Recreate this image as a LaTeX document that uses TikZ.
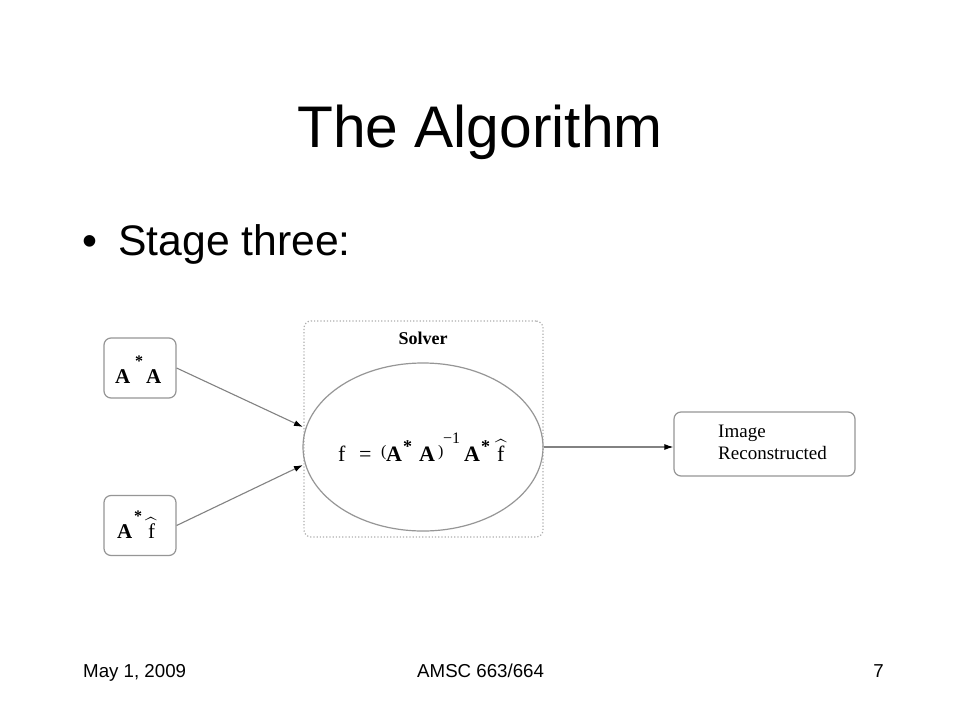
\documentclass[tikz,border=0pt]{standalone}
\usepackage{amsmath}
\usepackage{fontspec}
\setmainfont{Liberation Serif}
\newfontfamily\arial{Liberation Sans}
\usetikzlibrary{arrows.meta,shapes.geometric}
\definecolor{boxgray}{RGB}{150,150,150}
\definecolor{dotgray}{RGB}{175,175,175}
\definecolor{arrgray}{RGB}{130,130,130}
\tikzset{
  inbox/.style={draw=boxgray, line width=1.2pt, rounded corners=7pt, minimum width=72pt, minimum height=60pt, inner sep=0pt},
  outbox/.style={draw=boxgray, line width=1.2pt, rounded corners=7pt, minimum width=181pt, minimum height=64pt, inner sep=0pt},
  solverbox/.style={draw=dotgray, line width=1.2pt, dotted, rounded corners=7pt, minimum width=239pt, minimum height=216pt, inner sep=0pt},
  solverell/.style={draw=boxgray, line width=1.2pt, ellipse, minimum width=240pt, minimum height=168pt, inner sep=0pt},
  conn/.style={draw=arrgray, line width=1.1pt, -{Latex[length=9pt,width=6pt,black]}},
  piece/.style={font=\fontsize{22}{24}\selectfont, inner sep=0pt, anchor=base west},
  boxpiece/.style={font=\fontsize{21}{24}\selectfont, inner sep=0pt, anchor=base west},
  smallpiece/.style={font=\fontsize{16}{17}\selectfont, inner sep=0pt, anchor=base west},
  starpiece/.style={font=\fontsize{16}{16}\selectfont\bfseries, inner sep=0pt, anchor=north west},
}
\newcommand{\bA}{\textbf{A}}
\newcommand{\fhat}{\ensuremath{\widehat{\text{f}}}}
\begin{document}
\begin{tikzpicture}[x=1pt,y=-1pt]
\useasboundingbox (0,0) rectangle (960,720);
\fill[white] (0,0) rectangle (960,720);
% title
\node[font=\arial\fontsize{58.7}{64}\selectfont, anchor=base] (title) at (480,147) {The Algorithm};
\node[font=\arial\fontsize{42.7}{48}\selectfont, anchor=base, inner sep=0pt] (bullet) at (90,255) {\textbullet};
\node[font=\arial\fontsize{42.7}{48}\selectfont, anchor=base west, inner sep=0pt] (stage) at (118,255) {Stage three:};
% input boxes
\node[inbox] (aa) at (140,368) {};
\node[boxpiece] (aa1) at (115,383) {\bA};
\node[starpiece] (aas) at (135,356) {*};
\node[boxpiece] (aa2) at (146,383) {\bA};
\node[inbox] (af) at (140,525.5) {};
\node[boxpiece] (af1) at (117,538) {\bA};
\node[starpiece] (afs) at (134,511) {*};
\node[boxpiece] (af2) at (148,538) {\fhat};
% solver
\node[solverbox] (solver) at (423.5,429) {};
\node[font=\fontsize{18}{20}\selectfont\bfseries, anchor=base] (solvertxt) at (423,344) {Solver};
\node[solverell] (ell) at (423,447) {};
% formula pieces
\node[piece] (ff) at (338,461) {f};
\node[piece] (feq) at (359,461) {=};
\node[smallpiece] (lp) at (381,456) {(};
\node[piece] (a1) at (386,461) {\bA};
\node[starpiece, font=\fontsize{18}{18}\selectfont\bfseries] (s1) at (403,440) {*};
\node[piece] (a2) at (419,461) {\bA};
\node[smallpiece] (rp) at (438,456) {)};
\node[smallpiece] (inv) at (443,443) {\textminus1};
\node[piece] (a3) at (464,461) {\bA};
\node[starpiece, font=\fontsize{18}{18}\selectfont\bfseries] (s2) at (481,440) {*};
\node[piece] (fh) at (497,461) {\fhat};
% output
\node[outbox] (out) at (764.5,444) {};
\node[font=\fontsize{19}{22}\selectfont, anchor=base west, inner sep=0pt] (outtxt1) at (718,437) {Image};
\node[font=\fontsize{19}{22}\selectfont, anchor=base west, inner sep=0pt] (outtxt2) at (718,459) {Reconstructed};
% connectors
\coordinate (e1) at (303,427);
\coordinate (e2) at (303,465);
\draw[conn] (aa.east) -- (e1);
\draw[conn] (af.east) -- (e2);
\draw[conn] (ell.east) -- (ell.east -| out.west);
% footer
\node[font=\arial\fontsize{18.7}{20}\selectfont, anchor=base west, inner sep=0pt] (date) at (83,677) {May 1, 2009};
\node[font=\arial\fontsize{18.7}{20}\selectfont, anchor=base west, inner sep=0pt] (course) at (417,677) {AMSC 663/664};
\node[font=\arial\fontsize{18.7}{20}\selectfont, anchor=base east, inner sep=0pt] (page) at (884,677) {7};
\end{tikzpicture}
\end{document}
